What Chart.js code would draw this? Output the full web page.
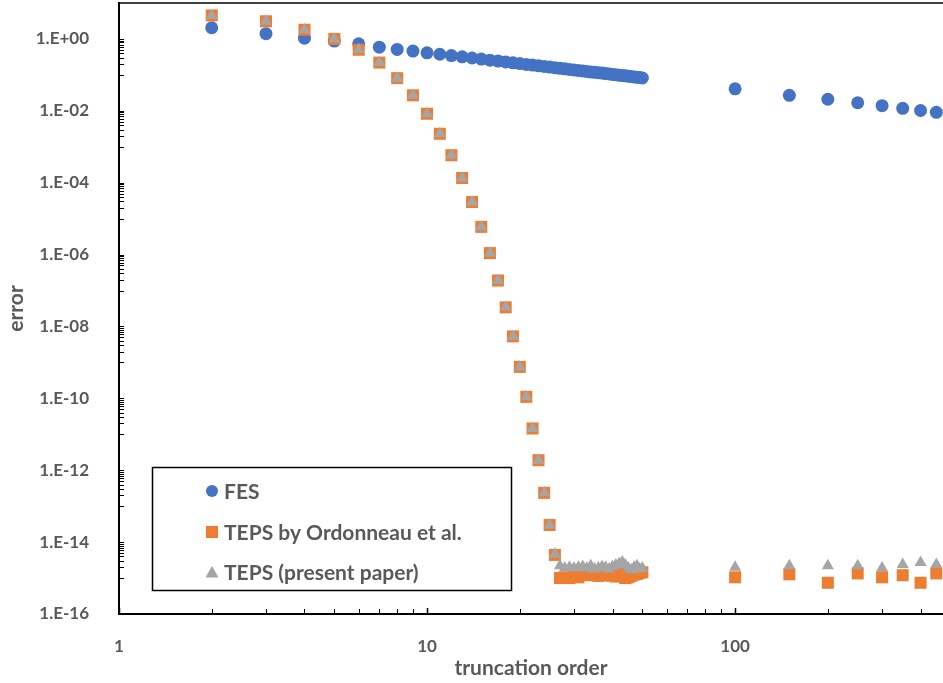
<!DOCTYPE html>
<html>
<head>
<meta charset="utf-8">
<script src="https://cdn.jsdelivr.net/npm/chart.js@4.4.1/dist/chart.umd.min.js"></script>
<style>
  html, body { margin: 0; padding: 0; background: #fff; }
  #wrap { width: 943px; height: 683px; }
</style>
</head>
<body>
<div id="wrap"><canvas id="myChart"></canvas></div>
<script>
const orders = [2, 3, 4, 5, 6, 7, 8, 9, 10, 11, 12, 13, 14, 15, 16, 17, 18, 19, 20, 21, 22, 23, 24, 25, 26,
  27, 28, 29, 30, 31, 32, 33, 34, 35, 36, 37, 38, 39, 40, 41, 42, 43, 44, 45, 46, 47, 48, 49, 50,
  100, 150, 200, 250, 300, 350, 400, 450];

const fesError = [2.05, 1.40, 1.05, 0.87, 0.73, 0.59, 0.51, 0.46, 0.41, 0.375, 0.345, 0.318, 0.295, 0.275, 0.257,
  0.242, 0.229, 0.217, 0.206, 0.196, 0.187, 0.179, 0.172, 0.165, 0.158,
  0.152, 0.147, 0.142, 0.137, 0.133, 0.129, 0.125, 0.121, 0.118, 0.115, 0.112, 0.109, 0.106, 0.103,
  0.101, 0.098, 0.096, 0.094, 0.092, 0.090, 0.088, 0.086, 0.084, 0.082,
  0.041, 0.027, 0.021, 0.0168, 0.0139, 0.0117, 0.0102, 0.0091];

const ordonneauError = [4.5, 3.1, 1.8, 1.0, 0.5, 0.22, 0.081, 0.027, 8.3e-3, 2.3e-3, 5.8e-4, 1.35e-4, 2.9e-5,
  5.9e-6, 1.1e-6, 1.9e-7, 3.4e-8, 5.3e-9, 7.5e-10, 1.1e-10, 1.45e-11, 1.9e-12, 2.35e-13, 3.0e-14, 4.4e-15,
  1.0e-15, 1.05e-15, 1.0e-15, 1.1e-15, 1.05e-15, 1.2e-15, 1.25e-15, 1.3e-15, 1.2e-15, 1.15e-15, 1.2e-15, 1.25e-15,
  1.2e-15, 1.15e-15, 1.1e-15, 1.3e-15, 1.2e-15, 1.0e-15, 1.05e-15, 1.15e-15, 1.25e-15, 1.3e-15, 1.4e-15, 1.45e-15,
  1.05e-15, 1.27e-15, 7.4e-16, 1.35e-15, 1.05e-15, 1.2e-15, 7.4e-16, 1.35e-15];

const presentError = [4.5, 3.1, 1.8, 1.0, 0.5, 0.22, 0.081, 0.027, 8.3e-3, 2.3e-3, 5.8e-4, 1.35e-4, 2.9e-5,
  5.9e-6, 1.1e-6, 1.9e-7, 3.4e-8, 5.3e-9, 7.5e-10, 1.1e-10, 1.45e-11, 1.9e-12, 2.35e-13, 3.0e-14, 4.6e-15,
  2.2e-15, 1.9e-15, 2.0e-15, 1.9e-15, 2.0e-15, 2.1e-15, 1.9e-15, 2.2e-15, 1.8e-15, 1.9e-15, 2.1e-15, 2.0e-15,
  1.8e-15, 2.1e-15, 2.3e-15, 2.5e-15, 2.8e-15, 2.3e-15, 1.9e-15, 1.7e-15, 2.0e-15, 2.2e-15, 1.8e-15, 1.9e-15,
  2.0e-15, 2.2e-15, 2.2e-15, 2.2e-15, 1.9e-15, 2.4e-15, 2.7e-15, 2.4e-15];

const seriesNames = ['FES', 'TEPS by Ordonneau et al.', 'TEPS (present paper)'];
const xTickValues = [1, 10, 100];
const yTickExponents = [0, -2, -4, -6, -8, -10, -12, -14, -16];

const textColor = '#595959';
const fontFamily = 'Lato, "Open Sans", sans-serif';

function points(values) {
  return orders.map((x, i) => ({ x: x, y: values[i] }));
}

function expLabel(v) {
  const e = Math.round(Math.log10(v));
  const sign = e < 0 ? '-' : '+';
  const abs = Math.abs(e);
  return '1.E' + sign + (abs < 10 ? '0' + abs : abs);
}

// inner ticks, top border and the boxed legend
const extras = {
  id: 'extras',
  afterDraw(chart) {
    const c = chart.ctx;
    const a = chart.chartArea;
    const xs = chart.scales.x;
    const ys = chart.scales.y;
    c.save();
    c.strokeStyle = '#000';
    // x ticks (inside)
    for (let d = 1; d <= 100; d *= 10) {
      for (let m = 1; m <= 9; m++) {
        const v = d * m;
        if (v > xs.max) continue;
        const px = Math.round(xs.getPixelForValue(v)) + 0.5;
        c.lineWidth = m === 1 ? 1.5 : 1;
        c.beginPath();
        c.moveTo(px, a.bottom);
        c.lineTo(px, a.bottom - (m === 1 ? 6 : 5));
        c.stroke();
      }
    }
    // y ticks (inside): tenths of each labelled value
    c.lineWidth = 1;
    yTickExponents.forEach(e => {
      const top = Math.pow(10, e);
      for (let m = 1; m <= 10; m++) {
        const v = top * m / 10;
        if (v < ys.min * 0.999) continue;
        const py = Math.round(ys.getPixelForValue(v)) + 0.5;
        c.beginPath();
        c.moveTo(a.left, py);
        c.lineTo(a.left + 5, py);
        c.stroke();
      }
    });
    // top border
    c.lineWidth = 1.5;
    c.beginPath();
    c.moveTo(a.left, a.top);
    c.lineTo(a.right, a.top);
    c.stroke();

    // legend box
    c.lineWidth = 1.5;
    c.fillStyle = '#fff';
    c.fillRect(152, 467, 359, 123);
    c.strokeRect(152.5, 467.5, 359, 123);
    c.font = 'bold 21px ' + fontFamily;
    c.textBaseline = 'middle';
    const rows = [491, 532, 572];
    chart.data.datasets.forEach((ds, i) => {
      const y = rows[i];
      c.fillStyle = ds.pointBackgroundColor;
      if (i === 0) {
        c.beginPath();
        c.arc(212, y, 6, 0, Math.PI * 2);
        c.fill();
      } else if (i === 1) {
        c.fillRect(206, y - 6, 12, 12);
      } else {
        c.beginPath();
        c.moveTo(212, y - 6);
        c.lineTo(218.5, y + 5.5);
        c.lineTo(205.5, y + 5.5);
        c.closePath();
        c.fill();
      }
      c.fillStyle = textColor;
      c.fillText(ds.label, 224, y + 1);
    });
    c.restore();
  }
};

const ctx = document.getElementById('myChart');

new Chart(ctx, {
  type: 'scatter',
  data: {
    datasets: [{
      label: seriesNames[0],
      data: points(fesError),
      pointStyle: 'circle',
      pointRadius: 6.5,
      pointBackgroundColor: '#4472C4',
      pointBorderWidth: 0,
      order: 3
    }, {
      label: seriesNames[1],
      data: points(ordonneauError),
      pointStyle: 'rect',
      pointRadius: 8.5,
      pointBackgroundColor: '#ED7D31',
      pointBorderWidth: 0,
      order: 2
    }, {
      label: seriesNames[2],
      data: points(presentError),
      pointStyle: 'triangle',
      pointRadius: 7,
      pointBackgroundColor: '#A5A5A5',
      pointBorderWidth: 0,
      order: 1
    }]
  },
  options: {
    responsive: true,
    maintainAspectRatio: false,
    animation: false,
    layout: { autoPadding: false, padding: { top: 3, right: 0, left: 0, bottom: 0 } },
    plugins: {
      legend: { display: false },
      tooltip: { enabled: false }
    },
    scales: {
      x: {
        type: 'logarithmic',
        min: 1,
        max: 473,
        grid: { display: false },
        border: { display: true, color: '#000', width: 2 },
        afterBuildTicks: s => { s.ticks = xTickValues.map(v => ({ value: v })); },
        afterFit: s => { s.height = 69; s.paddingLeft = 0; s.paddingRight = 0; },
        ticks: {
          color: textColor,
          font: { family: fontFamily, size: 17, weight: 'bold' },
          padding: 14,
          maxRotation: 0,
          autoSkip: false,
          callback: v => String(v)
        },
        title: {
          display: true,
          text: 'truncation order',
          color: textColor,
          font: { family: fontFamily, size: 21, weight: 'bold' },
          padding: { top: 0, bottom: 2 }
        }
      },
      y: {
        type: 'logarithmic',
        min: 1e-16,
        max: 10,
        grid: { display: false },
        border: { display: true, color: '#000', width: 2 },
        afterBuildTicks: s => { s.ticks = yTickExponents.map(e => ({ value: Math.pow(10, e) })); },
        afterFit: s => { s.width = 119; s.paddingTop = 0; s.paddingBottom = 0; },
        ticks: {
          color: textColor,
          font: { family: fontFamily, size: 17, weight: 'bold' },
          padding: 22,
          autoSkip: false,
          callback: v => expLabel(v)
        },
        title: {
          display: true,
          text: 'error',
          color: textColor,
          font: { family: fontFamily, size: 21, weight: 'bold' },
          padding: { top: 4, bottom: 0 }
        }
      }
    }
  },
  plugins: [extras]
});
</script>
</body>
</html>
